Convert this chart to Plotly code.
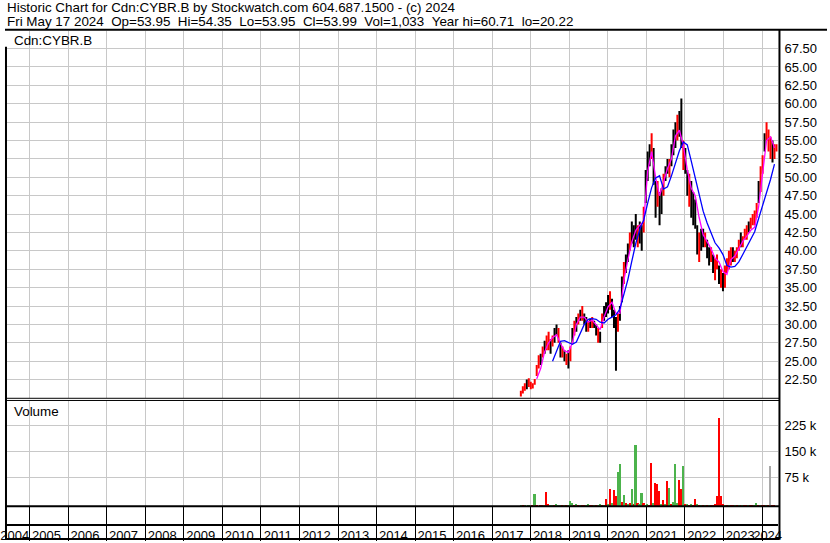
import plotly.graph_objects as go
import pandas as pd

# ---------------- data ----------------
first_date = "2017-09-29"
last_date = "2024-05-17"
n_points = 130

price_hi = [21.0, 21.6, 22.0, 22.5, 22.7, 22.2, 22.0, 22.6, 24.5, 25.8,
            26.0, 27.0, 27.8, 28.5, 29.0, 28.0, 28.5, 29.5, 30.0, 29.5,
            27.5, 27.0, 26.5, 26.0, 26.5, 27.0, 29.5, 30.5, 31.0, 31.5,
            32.0, 32.5, 31.5, 31.0, 30.5, 30.8, 31.0, 30.5, 30.0, 29.5,
            29.0, 31.5, 32.5, 33.0, 34.0, 34.5, 33.5, 32.0, 31.0, 31.5,
            32.5, 36.5, 38.5, 39.5, 41.0, 42.5, 44.0, 43.5, 45.0, 43.5,
            44.0, 43.5, 46.0, 51.0, 53.5, 54.5, 56.0, 54.0, 49.5, 49.5,
            48.0, 48.5, 50.5, 51.5, 52.5, 52.5, 54.5, 56.5, 57.5, 58.5,
            59.0, 60.7, 55.0, 54.0, 51.0, 50.5, 49.5, 48.0, 47.0, 43.5,
            42.5, 43.0, 43.0, 42.5, 41.5, 40.5, 40.5, 39.5, 39.0, 39.5,
            38.0, 37.5, 37.0, 38.0, 39.0, 40.0, 40.5, 40.5, 40.0, 40.5,
            41.5, 42.5, 42.0, 43.0, 43.5, 44.0, 44.5, 45.0, 45.5, 46.5,
            49.5, 51.5, 53.0, 56.0, 57.5, 56.5, 55.5, 55.0, 54.5, 54.5]

price_lo = [20.2, 20.6, 21.0, 21.2, 21.5, 21.2, 21.3, 21.8, 23.0, 24.0,
            24.5, 25.5, 26.0, 26.5, 26.5, 26.0, 27.0, 27.5, 28.5, 27.5,
            25.5, 25.5, 25.0, 24.5, 24.0, 25.0, 27.5, 28.5, 29.0, 30.0,
            30.5, 30.5, 30.0, 29.0, 29.0, 29.5, 29.5, 29.5, 28.5, 27.5,
            27.5, 29.5, 30.5, 31.0, 31.5, 32.0, 31.0, 29.5, 23.7, 29.0,
            30.5, 33.0, 35.5, 37.0, 38.5, 40.0, 41.0, 40.5, 41.5, 40.5,
            41.0, 40.0, 42.5, 46.5, 49.5, 51.5, 52.5, 49.0, 44.5, 46.0,
            43.5, 45.0, 47.5, 49.5, 50.5, 50.0, 51.5, 53.0, 54.0, 55.0,
            55.5, 54.0, 51.0, 50.5, 47.5, 46.0, 44.5, 43.5, 43.0, 39.5,
            38.5, 40.0, 40.5, 40.5, 39.0, 38.0, 38.5, 37.0, 36.0, 37.5,
            35.5, 35.0, 34.5, 35.0, 37.0, 37.5, 38.0, 38.5, 38.5, 39.0,
            40.0, 40.5, 40.5, 41.5, 41.5, 42.5, 43.0, 43.5, 43.5, 44.5,
            46.5, 48.0, 50.5, 53.5, 55.0, 53.5, 52.5, 52.0, 52.5, 53.5]

# k = black bar, r = red bar
bar_colour = ("rrrkrrrr" "rrkrkrrkrk" "krkrkrkrkrkr" "krkkrkrkkrkrk"
              "kkrkkkrkkrkkrkk" "krkkrkkkrkkrkkr" "kkrkkkrkkrkkrkk"
              "kkrkkrkkrkrrkrkrr" "rrkrrrkrrrkrrrrkrrkrrrkrr")

# moving averages, sampled on every second date
ma_short = [None, None, None, None, 22.6, 24.0, 26.3, 27.5, 28.2, 28.6,
            27.4, 26.4, 26.2, 27.5, 30.0, 31.0, 31.0, 30.3, 30.6, 30.0,
            29.3, 31.0, 32.4, 33.0, 31.5, 31.5, 36.0, 38.8, 41.2, 42.8,
            43.5, 44.0, 50.8, 53.5, 50.0, 47.5, 49.5, 51.2, 52.5, 55.6,
            56.4, 54.3, 51.0, 48.5, 47.5, 44.5, 42.2, 41.2, 40.3, 39.0,
            38.5, 37.2, 36.8, 38.8, 39.3, 40.3, 41.3, 42.0, 42.8, 43.2,
            46.0, 50.5, 55.0, 55.5, 54.0]
ma_long = [None, None, None, None, None, None, None, None, 25.0, 26.5,
           27.7, 27.8, 27.6, 27.3, 27.6, 28.8, 30.0, 30.7, 30.8, 30.7,
           30.3, 30.2, 30.7, 31.0, 31.3, 32.1, 34.0, 36.1, 38.6, 41.0,
           42.9, 44.2, 46.5, 48.6, 49.9, 50.2, 48.4, 48.7, 50.2, 52.0,
           53.6, 54.8, 54.4, 52.2, 50.0, 47.4, 45.4, 43.8, 42.5, 41.1,
           40.4, 39.5, 38.0, 37.8, 37.9, 38.5, 39.5, 40.5, 41.6, 42.6,
           44.4, 46.2, 47.8, 49.7, 51.8]

# volume in thousands of shares
volume_k = [3, 4, 2, 1, 3, 1, 2, 35, 3, 1,
            2, 4, 3, 41, 6, 5, 2, 3, 6, 2,
            4, 3, 2, 5, 4, 16, 9, 4, 6, 3,
            5, 2, 4, 3, 6, 2, 4, 5, 3, 2,
            6, 3, 4, 22, 8, 52, 10, 48, 30, 99,
            123, 12, 33, 9, 6, 11, 52, 8, 177, 9,
            7, 40, 10, 5, 7, 4, 126, 9, 69, 65,
            46, 8, 20, 6, 74, 54, 8, 12, 123, 10,
            76, 50, 117, 6, 8, 5, 7, 4, 22, 6,
            5, 3, 4, 5, 3, 4, 2, 5, 6, 30,
            256, 30, 7, 5, 3, 4, 2, 3, 2, 3,
            2, 4, 2, 3, 2, 4, 3, 5, 2, 9,
            4, 2, 3, 4, 2, 3, 117, 3, 2, 1]
# g = green, r = red, a = grey
volume_colour = ("grgrgrrgrg" "rrgrrggrgg" "grgrgggrgr" "grrggrrgrg"
                 "grgrgrgrrg" "grgrgrgrgr" "ggrggrrgrr" "rgrgrgrggg"
                 "rrgrgrgrrg" "rgrgrgrrrr" "rrrgrgrrgr" "grgrrgrrgg"
                 "rgrrgrarrr")

price_ticks = [22.5, 25, 27.5, 30, 32.5, 35, 37.5, 40, 42.5, 45, 47.5, 50,
               52.5, 55, 57.5, 60, 62.5, 65, 67.5]
volume_ticks = [75000, 150000, 225000]
volume_tick_text = ["75 k", "150 k", "225 k"]
year_labels = [str(y) for y in range(2004, 2025)]
year_label_dates = (["2004-08-13"] + [f"{y}-06-09" for y in range(2005, 2024)]
                    + ["2024-02-23"])

title_line1 = "Historic Chart for Cdn:CYBR.B by Stockwatch.com 604.687.1500 - (c) 2024"
title_line2 = ("Fri May 17 2024\u00a0\u00a0Op=53.95\u00a0\u00a0Hi=54.35\u00a0\u00a0Lo=53.95"
               "\u00a0\u00a0Cl=53.99\u00a0\u00a0Vol=1,033\u00a0\u00a0Year hi=60.71\u00a0\u00a0lo=20.22")

# ---------------- figure ----------------
W, H = 830, 543
FONT = "Liberation Sans, Arial, sans-serif"


def px(v):
    return v / W


def py(v):
    return 1 - v / H


dates = pd.date_range(first_date, last_date, periods=n_points)

fig = go.Figure()

for code, colour in (("k", "#000000"), ("r", "#ff0000")):
    xs, ys = [], []
    for d, lo, hi, c in zip(dates, price_lo, price_hi, bar_colour):
        if c == code:
            xs += [d, d, None]
            ys += [lo, hi, None]
    fig.add_trace(go.Scatter(x=xs, y=ys, mode="lines", line=dict(color=colour, width=2),
                             xaxis="x", yaxis="y", hoverinfo="skip"))

fig.add_trace(go.Scatter(x=dates[::2], y=ma_short, mode="lines",
                         line=dict(color="#ff00ff", width=1.3), xaxis="x", yaxis="y"))
fig.add_trace(go.Scatter(x=dates[::2], y=ma_long, mode="lines",
                         line=dict(color="#0000ff", width=1.3), xaxis="x", yaxis="y"))

cmap = {"g": "#4cb34c", "r": "#ff0000", "a": "#a8a8a8"}
fig.add_trace(go.Bar(x=dates, y=[v * 1000 for v in volume_k],
                     base=-8000,
                     marker=dict(color=[cmap[c] for c in volume_colour], line=dict(width=0)),
                     width=15 * 86400000, xaxis="x2", yaxis="y2"))

# invisible trace to create the bottom date strip
fig.add_trace(go.Scatter(x=[dates[0]], y=[0.5], mode="markers", marker=dict(opacity=0),
                         xaxis="x3", yaxis="y3", hoverinfo="skip"))

xr = ["2004-05-12", "2024-06-05"]
xdom = [0, px(781)]
grid = "#c8c8c8"
common_x = dict(domain=xdom, type="date", range=xr, showgrid=True, gridcolor=grid,
                gridwidth=1, tick0="2005-01-01", dtick="M12", showticklabels=False,
                ticks="", zeroline=False, showline=False)

fig.update_layout(
    width=W, height=H, margin=dict(l=0, r=0, t=0, b=0),
    paper_bgcolor="white", plot_bgcolor="white", showlegend=False,
    font=dict(family=FONT, size=13, color="#000000"),
    bargap=0,
    xaxis=dict(**common_x, anchor="y"),
    yaxis=dict(domain=[py(400), py(31)], range=[20.03, 69.91], side="right",
               tickvals=price_ticks, tickformat=".2f", showgrid=True, gridcolor=grid,
               ticks="", ticklabelstandoff=5, zeroline=False, anchor="x"),
    xaxis2=dict(**common_x, anchor="y2", matches="x"),
    yaxis2=dict(domain=[py(509), py(403)], range=[-7800, 298000], side="right",
                tickvals=volume_ticks, ticktext=volume_tick_text, showgrid=True,
                gridcolor=grid, ticks="", ticklabelstandoff=5, zeroline=False, anchor="x2"),
    xaxis3=dict(domain=xdom, type="date", range=xr, matches="x", anchor="y3",
                tickvals=year_label_dates, ticktext=year_labels, ticks="", tickangle=0,
                ticklabeloverflow="allow", ticklabelstandoff=-2,
                showgrid=False, showline=True, linecolor="black", linewidth=2,
                zeroline=False,
                minor=dict(tick0="2005-01-01", dtick="M12", showgrid=True, gridcolor="black",
                           gridwidth=1, ticks="outside", ticklen=15, tickcolor="black",
                           tickwidth=1)),
    yaxis3=dict(domain=[py(527), py(509)], range=[0, 1], showticklabels=False,
                showgrid=False, zeroline=False, anchor="x3"),
)

line_k = dict(color="black", width=2)
shapes = [
    dict(type="line", xref="paper", yref="paper", x0=0, x1=1, y0=py(30), y1=py(30), line=line_k),
    dict(type="line", xref="paper", yref="paper", x0=px(782), x1=px(782), y0=py(30), y1=py(542), line=line_k),
    dict(type="line", xref="paper", yref="paper", x0=0, x1=px(782), y0=py(400.5), y1=py(400.5),
         line=dict(color="black", width=1)),
    dict(type="line", xref="paper", yref="paper", x0=0, x1=px(782), y0=py(402.7), y1=py(402.7),
         line=dict(color="black", width=1)),
    dict(type="line", xref="paper", yref="paper", x0=0, x1=px(782), y0=py(509), y1=py(509), line=line_k),
    dict(type="line", xref="paper", yref="paper", x0=0, x1=px(782), y0=py(542), y1=py(542), line=line_k),
    dict(type="line", xref="paper", yref="paper", x0=px(1), x1=px(1), y0=py(47), y1=py(542), line=line_k),
]
fig.update_layout(shapes=shapes)

ann = dict(xref="paper", yref="paper", showarrow=False, xanchor="left", yanchor="middle",
           font=dict(family=FONT, size=13.4, color="#000000"))
fig.add_annotation(text=title_line1, x=px(0), y=py(8), **ann)
fig.add_annotation(text=title_line2, x=px(0), y=py(21.5), **ann)
fig.add_annotation(text="Cdn:CYBR.B", x=px(7), y=py(41), **ann)
fig.add_annotation(text="Volume", x=px(7), y=py(414), **ann)

fig.write_html("out.html", config={"displayModeBar": False},
               post_script="document.body.style.margin='0';document.body.style.overflow='hidden';")
